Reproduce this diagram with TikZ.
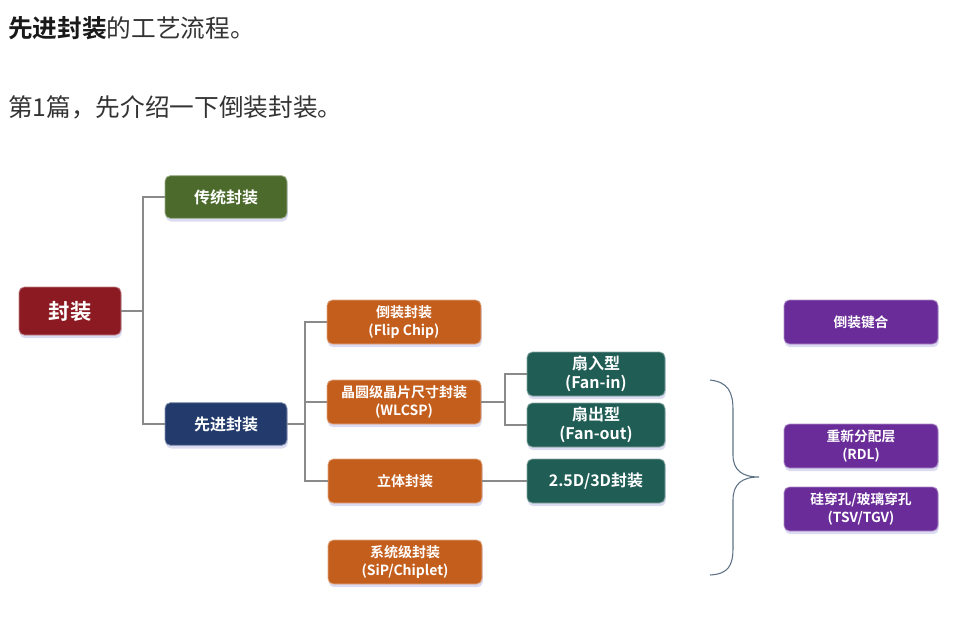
\documentclass[tikz,border=0pt]{standalone}
\usepackage{fontspec}
\setmainfont{Noto Sans CJK SC}[BoldFont={Noto Sans CJK SC Bold}]
\usetikzlibrary{positioning, shadows}

\definecolor{rootred}{HTML}{8B1A23}
\definecolor{tradgreen}{HTML}{4B6A2B}
\definecolor{advblue}{HTML}{233B6C}
\definecolor{procorange}{HTML}{C45E1D}
\definecolor{fanteal}{HTML}{1F5D55}
\definecolor{techpurple}{HTML}{6A2C98}
\definecolor{linkgray}{HTML}{8A8A8A}
\definecolor{bracegray}{HTML}{5D7185}
\definecolor{txtgray}{HTML}{333333}

\begin{document}
\begin{tikzpicture}[x=0.75pt, y=-0.75pt, font=\bfseries]
  \tikzset{
    pkgbox/.style={fill=#1, draw=#1!55!white, line width=0.6pt,
      rounded corners=4pt, text=white, align=center, inner sep=2pt,
      drop shadow={shadow xshift=0.6pt, shadow yshift=-2.4pt,
        fill=black!35!blue!40, opacity=0.35}},
    orangebox/.style={pkgbox=procorange, minimum width=115.5pt,
      minimum height=33pt, font=\bfseries\fontsize{10.5}{13.5}\selectfont},
    tealbox/.style={pkgbox=fanteal, minimum width=103.5pt,
      minimum height=33pt, font=\bfseries\fontsize{12}{14.5}\selectfont},
    purplebox/.style={pkgbox=techpurple, minimum width=115.5pt,
      minimum height=33pt, font=\bfseries\fontsize{10.3}{13}\selectfont},
    link/.style={draw=linkgray, line width=0.9pt},
  }
  \useasboundingbox (0,0) rectangle (961,619);

  % heading lines
  \node[anchor=west, inner sep=0pt, text=txtgray,
    font=\fontsize{18.5}{21}\selectfont] (title) at (8,28)
    {{\bfseries\color{black!90}先进封装}的工艺流程。};
  \node[anchor=west, inner sep=0pt, text=txtgray,
    font=\fontsize{18.5}{21}\selectfont] (intro) at (8,107)
    {第1篇，先介绍一下倒装封装。};

  % first level
  \node[pkgbox=rootred, minimum width=76.5pt, minimum height=36pt,
    font=\bfseries\fontsize{16}{18}\selectfont] (root) at (70,311) {封装};
  \node[pkgbox=tradgreen, minimum width=91.5pt, minimum height=32pt,
    font=\bfseries\fontsize{12}{14}\selectfont] (trad) at (226,197) {传统封装};
  \node[pkgbox=advblue, minimum width=91.5pt, minimum height=32pt,
    font=\bfseries\fontsize{12}{14}\selectfont] (adv) at (226,424) {先进封装};

  % advanced packaging routes
  \node[orangebox] (flip) at (404,322) {倒装封装\\(Flip Chip)};
  \node[orangebox] (wlcsp) at (404,402) {晶圆级晶片尺寸封装\\(WLCSP)};
  \node[orangebox] (stack) at (405,481) {立体封装};
  \node[orangebox] (sip) at (405,562) {系统级封装\\(SiP/Chiplet)};

  \node[tealbox] (fanin) at (596,374) {扇入型\\(Fan-in)};
  \node[tealbox] (fanout) at (596,425) {扇出型\\(Fan-out)};
  \node[tealbox] (threed) at (596,481) {2.5D/3D封装};

  % key techniques
  \node[purplebox] (bond) at (861,322) {倒装键合};
  \node[purplebox] (rdl) at (861,446) {重新分配层\\(RDL)};
  \node[purplebox] (tsv) at (861,509) {硅穿孔/玻璃穿孔\\(TSV/TGV)};

  % tree connectors
  \draw[link] (root.east) -- (143,311);
  \draw[link] (trad.west) -| (143,424) -- (adv.west);
  \draw[link] (adv.east) -- (305,424);
  \draw[link] (flip.west) -| (305,481) -- (stack.west);
  \draw[link] (wlcsp.west) -- (305,402);
  \draw[link] (wlcsp.east) -- (505,402);
  \draw[link] (fanin.west) -| (505,425) -- (fanout.west);
  \draw[link] (stack.east) -- (threed.west);

  % brace
  \draw[bracegray, line width=0.8pt]
    (710,380) .. controls (728,382) and (733,392) .. (733,410)
    -- (733,455) .. controls (733,470) and (742,477) .. (759,477)
    .. controls (742,477) and (733,484) .. (733,500)
    -- (733,548) .. controls (733,566) and (728,574) .. (710,575);
\end{tikzpicture}
\end{document}
